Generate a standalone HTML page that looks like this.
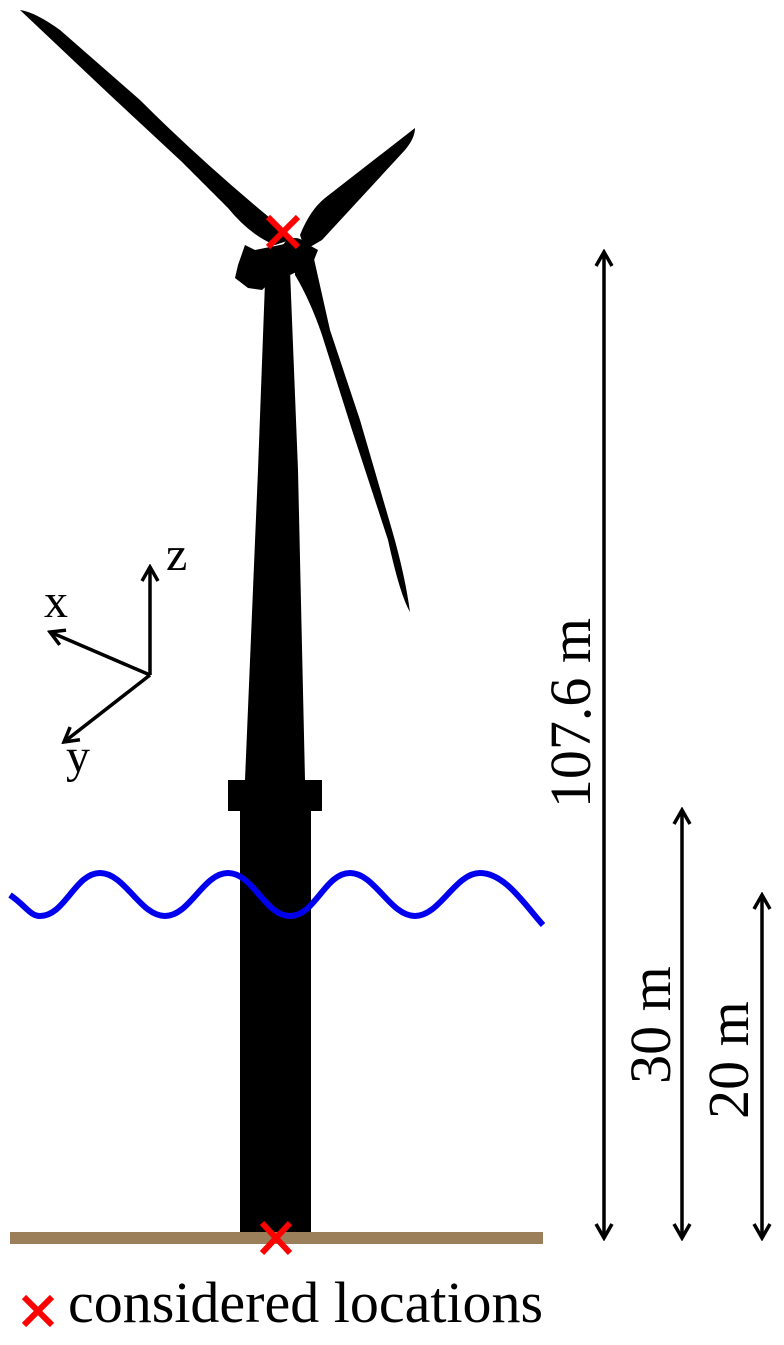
<!DOCTYPE html>
<html><head><meta charset="utf-8"><style>html,body{margin:0;padding:0;background:#fff}</style></head><body>
<svg width="784" height="1340" viewBox="0 0 784 1340" xmlns="http://www.w3.org/2000/svg" font-family="Liberation Serif, serif">
<defs><marker id="ah" viewBox="0 0 20 20" refX="17" refY="10" markerWidth="20" markerHeight="20" markerUnits="userSpaceOnUse" orient="auto-start-reverse"><path d="M3,2 L17,10 L3,18" fill="none" stroke="#000" stroke-width="3.5"/></marker></defs>
<path d="M265,282 L290,270 L298,470 L305,780 L245,780 L258,470 Z" fill="#000"/>
<rect x="228" y="780" width="94" height="31" fill="#000"/>
<rect x="240" y="811" width="71" height="423" fill="#000"/>
<path d="M20,10 Q35,12 60,30 L140,100 Q200,160 270,218 L290,240 L275,245 Q250,235 228,208 L182,162 L110,95 Z" fill="#000"/>
<path d="M415,128 Q415,138 405,150 L322,240 L305,250 L300,235 Q310,210 325,198 Z" fill="#000"/>
<path d="M295,255 L312,250 L330,330 L360,420 L392,530 Q405,575 410,612 Q400,595 388,540 L352,430 L322,335 Q310,300 295,275 Z" fill="#000"/>
<path d="M245,245 L255,250 L280,245 L300,240 L318,250 L312,265 L290,275 L275,278 L262,290 L248,288 L235,278 L238,265 Z" fill="#000"/>
<circle cx="295" cy="252" r="14" fill="#000"/>
<path d="M10,895 C25,905 30,916 40,916 C65,916 75,873 100,873 C125,873 140,916 165,916 C190,916 203,873 228,873 C253,873 265,916 290,916 C315,916 325,873 350,873 C375,873 390,916 415,916 C440,916 455,873 480,873 C505,873 525,905 543,925" fill="none" stroke="#0000ee" stroke-width="6"/>
<rect x="10" y="1232" width="533" height="12" fill="#9a7f5a"/>
<g stroke="#ff0000" stroke-width="6">
<line x1="268" y1="217" x2="298" y2="247"/><line x1="298" y1="217" x2="268" y2="247"/>
<line x1="262" y1="1223" x2="290" y2="1253"/><line x1="290" y1="1223" x2="262" y2="1253"/>
<line x1="24" y1="1297" x2="52" y2="1325"/><line x1="52" y1="1297" x2="24" y2="1325"/>
</g>
<g stroke="#000" stroke-width="3.5" fill="none">
<line x1="150" y1="675" x2="150" y2="567" marker-end="url(#ah)"/>
<line x1="150" y1="675" x2="50" y2="632" marker-end="url(#ah)"/>
<line x1="150" y1="675" x2="64" y2="742" marker-end="url(#ah)"/>
<line x1="604" y1="1238" x2="604" y2="252" marker-end="url(#ah)" marker-start="url(#ah)"/>
<line x1="682" y1="1238" x2="682" y2="810" marker-end="url(#ah)" marker-start="url(#ah)"/>
<line x1="762" y1="1238" x2="762" y2="895" marker-end="url(#ah)" marker-start="url(#ah)"/>
</g>
<g font-size="58" fill="#000">
<text x="166" y="570" font-size="48">z</text>
<text x="44" y="617" font-size="48">x</text>
<text x="66" y="772" font-size="48">y</text>
<text transform="translate(590,713) rotate(-90)" text-anchor="middle">107.6 m</text>
<text transform="translate(670,1025) rotate(-90)" text-anchor="middle">30 m</text>
<text transform="translate(748,1060) rotate(-90)" text-anchor="middle">20 m</text>
<text x="68" y="1322">considered locations</text>
</g>
</svg>
</body></html>
